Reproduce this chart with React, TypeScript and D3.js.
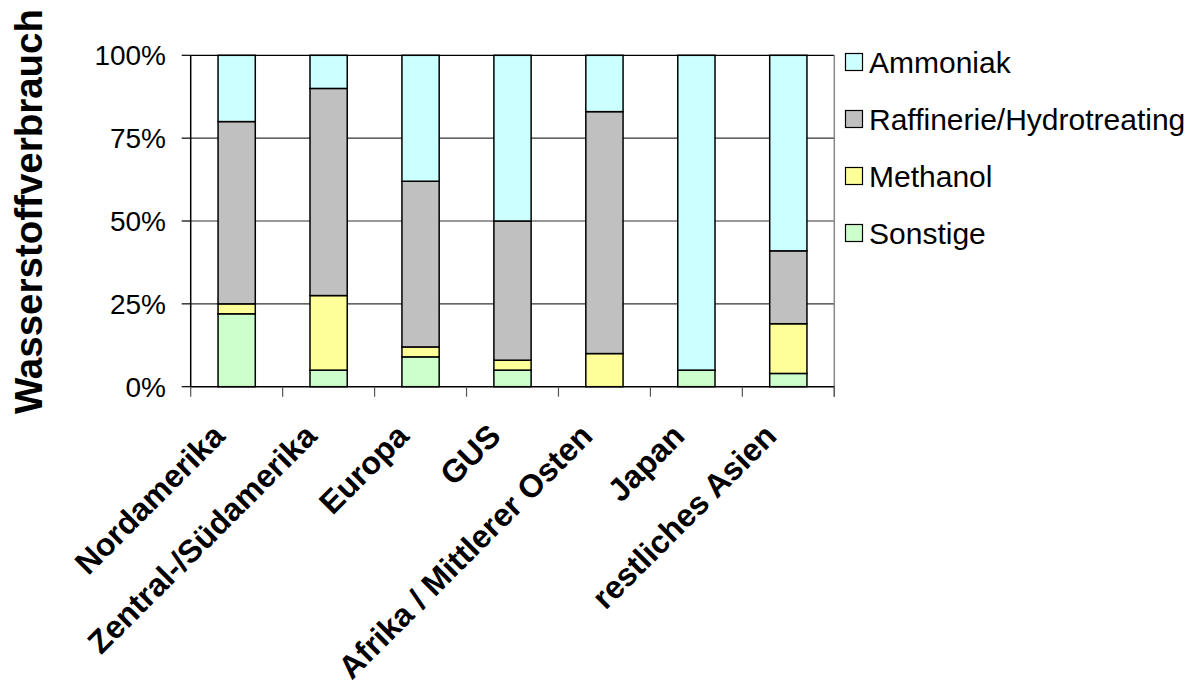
import React from "react";
import * as d3 from "d3";

const categories = [
  "Nordamerika",
  "Zentral-/Südamerika",
  "Europa",
  "GUS",
  "Afrika / Mittlerer Osten",
  "Japan",
  "restliches Asien",
];

// shares in percent, per region (stack order: bottom → top)
const sonstige = [22, 5, 9, 5, 0, 5, 4];
const methanol = [3, 22.5, 3, 3, 10, 0, 15];
const raffinerie = [55, 62.5, 50, 42, 73, 0, 22];
const ammoniak = [20, 10, 38, 50, 17, 95, 59];

const yTicks = [0, 25, 50, 75, 100];

const seriesNames = ["Sonstige", "Methanol", "Raffinerie/Hydrotreating", "Ammoniak"];
const seriesColors = ["#CCFFCC", "#FFFF99", "#C0C0C0", "#CCFFFF"];

const W = 1195;
const H = 689;
const FONT = "'Liberation Sans', Arial, Helvetica, sans-serif";

const plot = { left: 190.7, right: 834.3, top: 55.3, bottom: 386.7 };

export default function App() {
  const rows = categories.map((c, i) => ({
    cat: c,
    Sonstige: sonstige[i],
    Methanol: methanol[i],
    "Raffinerie/Hydrotreating": raffinerie[i],
    Ammoniak: ammoniak[i],
  }));
  const stacked = d3.stack<any>().keys(seriesNames)(rows);

  const x = d3
    .scaleBand<string>()
    .domain(categories)
    .range([plot.left, plot.right])
    .padding(0);
  const y = d3.scaleLinear().domain([0, 100]).range([plot.bottom, plot.top]);

  const step = x.step();
  const barW = step * 0.405;

  const edges = d3.range(categories.length + 1).map((i) => plot.left + i * step);

  const legendOrder = [3, 2, 1, 0];
  const legendY = [62, 119, 176, 233];

  return (
    <svg
      width={W}
      height={H}
      style={{ position: "absolute", left: 0, top: 0, background: "#fff" }}
      fontFamily={FONT}
    >
      {/* horizontal gridlines */}
      {yTicks
        .filter((t) => t > 0)
        .map((t) => (
          <line
            key={"g" + t}
            x1={plot.left}
            x2={plot.right}
            y1={y(t)}
            y2={y(t)}
            stroke={t === 100 ? "#000" : "#333"}
            strokeWidth={1.2}
          />
        ))}
      {/* right frame */}
      <line
        x1={plot.right}
        x2={plot.right}
        y1={plot.top}
        y2={plot.bottom + 10}
        stroke="#888"
        strokeWidth={1.5}
      />

      {/* stacked bars */}
      {stacked.map((layer, si) => (
        <g key={layer.key} fill={seriesColors[si]} stroke="#000" strokeWidth={1.5}>
          {layer.map((d, i) => {
            const cx = (x(categories[i]) as number) + step / 2;
            return (
              <rect
                key={i}
                x={cx - barW / 2}
                width={barW}
                y={y(d[1])}
                height={y(d[0]) - y(d[1])}
              />
            );
          })}
        </g>
      ))}

      {/* y axis */}
      <line x1={plot.left} x2={plot.left} y1={plot.top} y2={plot.bottom} stroke="#000" strokeWidth={1.5} />
      {yTicks.map((t) => (
        <g key={"t" + t}>
          <line x1={plot.left - 9} x2={plot.left} y1={y(t)} y2={y(t)} stroke="#000" strokeWidth={1.2} />
          <text
            x={166}
            y={y(t)}
            dy="0.36em"
            textAnchor="end"
            fontSize={28}
            fill="#000"
          >
            {t + "%"}
          </text>
        </g>
      ))}

      {/* x axis */}
      <line x1={plot.left} x2={plot.right} y1={plot.bottom} y2={plot.bottom} stroke="#000" strokeWidth={1.5} />
      {edges.map((e, i) => (
        <line key={"e" + i} x1={e} x2={e} y1={plot.bottom} y2={plot.bottom + 10} stroke="#555" strokeWidth={1.2} />
      ))}
      {categories.map((c) => {
        const cx = (x(c) as number) + step / 2;
        return (
          <text
            key={c}
            transform={`translate(${cx - 10},${438}) rotate(-45)`}
            textAnchor="end"
            fontSize={32}
            fontWeight="bold"
            fill="#000"
          >
            {c}
          </text>
        );
      })}

      {/* y axis title */}
      <text
        transform={`translate(42,${211.5}) rotate(-90)`}
        textAnchor="middle"
        fontSize={38.5}
        fontWeight="bold"
        fill="#000"
      >
        Wasserstoffverbrauch
      </text>

      {/* legend */}
      {legendOrder.map((si, k) => (
        <g key={"l" + si}>
          <rect
            x={845.5}
            y={legendY[k] - 8.5}
            width={17}
            height={17}
            fill={seriesColors[si]}
            stroke="#000"
            strokeWidth={1.2}
          />
          <text x={869} y={legendY[k]} dy="0.36em" fontSize={30} fill="#000">
            {seriesNames[si]}
          </text>
        </g>
      ))}
    </svg>
  );
}
